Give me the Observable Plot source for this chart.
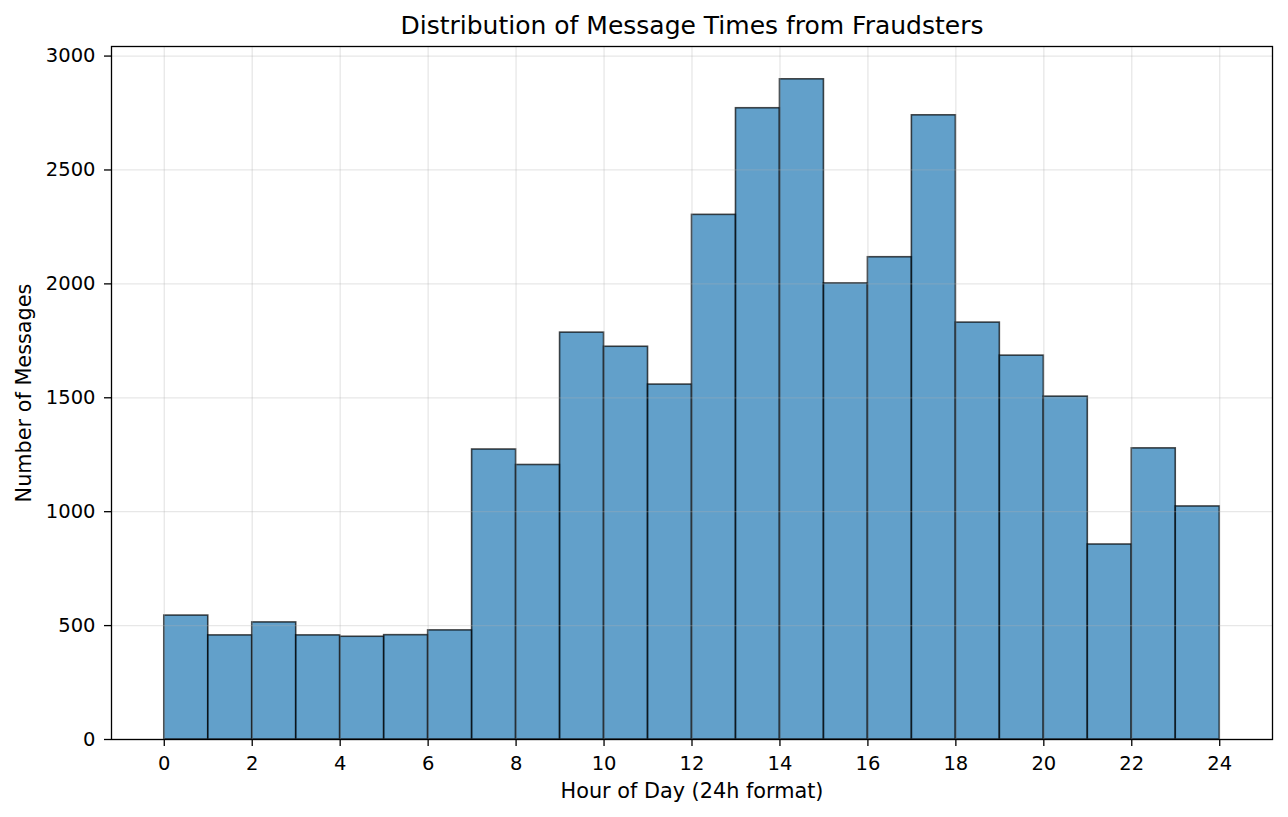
<!DOCTYPE html>
<html>
<head>
<meta charset="utf-8">
<script src="https://cdn.jsdelivr.net/npm/d3@7"></script>
<script src="https://cdn.jsdelivr.net/npm/@observablehq/plot@0.6"></script>
<style>
  html, body { margin: 0; padding: 0; background: #fff; }
  #chart svg { display: block; }
</style>
</head>
<body>
<div id="chart"></div>
<script>
const hours = [0,1,2,3,4,5,6,7,8,9,10,11,12,13,14,15,16,17,18,19,20,21,22,23];
const counts = [544,457,514,457,451,458,479,1273,1205,1786,1724,1558,2303,2771,2898,2002,2117,2740,1830,1685,1505,856,1278,1023];
const xTicks = [0,2,4,6,8,10,12,14,16,18,20,22,24];
const yTicks = [0,500,1000,1500,2000,2500,3000];
const title = "Distribution of Message Times from Fraudsters";
const xLabel = "Hour of Day (24h format)";
const yLabel = "Number of Messages";

const data = hours.map((h, i) => ({x1: h, x2: h + 1, y: counts[i]}));

const chart = Plot.plot({
  width: 1288,
  height: 817,
  marginLeft: 111,
  marginRight: 16,
  marginTop: 46,
  marginBottom: 78,
  style: {fontFamily: "DejaVu Sans", fontSize: "19.5px", color: "#000", background: "#fff"},
  x: {domain: [-1.2, 25.2]},
  y: {domain: [0, 3042]},
  marks: [
    Plot.rectY(data, {x1: "x1", x2: "x2", y: "y", fill: "#1f77b4", fillOpacity: 0.7, stroke: "#000", strokeOpacity: 0.7, strokeWidth: 1.6, inset: 0}),
    Plot.gridX(xTicks, {stroke: "#b0b0b0", strokeOpacity: 0.3, strokeWidth: 1.3}),
    Plot.gridY(yTicks, {stroke: "#b0b0b0", strokeOpacity: 0.3, strokeWidth: 1.3}),
    Plot.axisX({ticks: xTicks, tickSize: 7, tickPadding: 10, tickFormat: "d", label: null, stroke: "#000", strokeWidth: 1.3}),
    Plot.axisY({ticks: yTicks, tickSize: 7, tickPadding: 9, tickFormat: "d", label: null, stroke: "#000", strokeWidth: 1.3}),
    Plot.frame({stroke: "#000", strokeWidth: 1.3}),
    Plot.text([title], {frameAnchor: "top", lineAnchor: "middle", textAnchor: "middle", dy: -21, fontSize: 25, fill: "#000"}),
    Plot.text([xLabel], {frameAnchor: "bottom", lineAnchor: "middle", textAnchor: "middle", dy: 52, fontSize: 20.8, fill: "#000"}),
    Plot.text([yLabel], {frameAnchor: "left", lineAnchor: "middle", textAnchor: "middle", dx: -87, rotate: -90, fontSize: 20.8, fill: "#000"})
  ]
});
document.getElementById("chart").appendChild(chart);
</script>
</body>
</html>
